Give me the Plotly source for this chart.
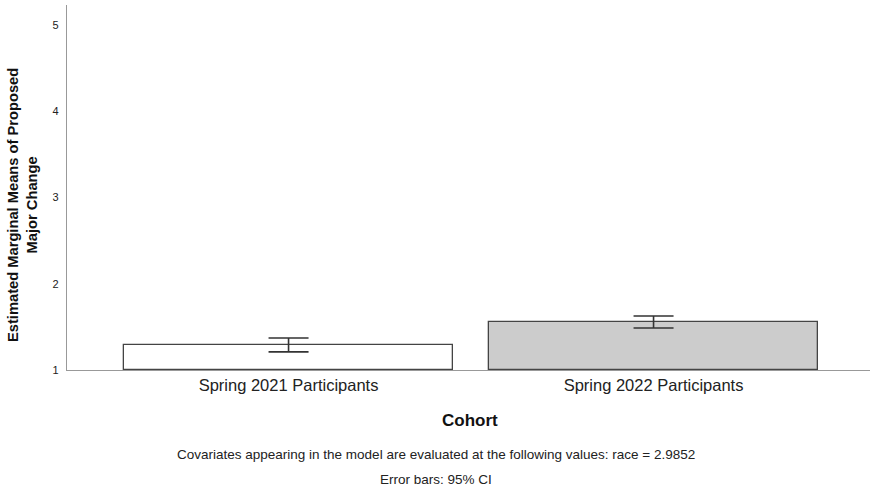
import plotly.graph_objects as go

categories = ["Spring 2021 Participants", "Spring 2022 Participants"]
means = [1.29, 1.556]
ci_upper = [1.37, 1.626]
ci_lower = [1.21, 1.487]
bar_colors = ["#ffffff", "#cccccc"]
y_ticks = [1, 2, 3, 4, 5]

err_plus = [u - m for u, m in zip(ci_upper, means)]
err_minus = [m - l for m, l in zip(means, ci_lower)]

FONT = "Liberation Sans, Arial, sans-serif"

fig = go.Figure()
fig.add_trace(go.Bar(
    x=[0, 1], y=[m - 1 for m in means], base=1,
    width=0.9,
    marker=dict(color=bar_colors, line=dict(color="#444444", width=1.3)),
    error_y=dict(type="data", array=err_plus, arrayminus=err_minus,
                 color="#333333", thickness=1.6, width=20),
    hoverinfo="skip",
))

L, R, T, B = 67, 0, 5, 120
W, H = 870, 490
pw = W - L - R
ph = H - T - B

def px(x):
    return (x - L) / pw

def py(y):
    return (H - B - y) / ph

fig.update_layout(
    width=W, height=H,
    margin=dict(l=L, r=R, t=T, b=B),
    paper_bgcolor="white", plot_bgcolor="white",
    showlegend=False,
    bargap=0,
    font=dict(family=FONT, color="#222222"),
    xaxis=dict(
        range=[-0.607, 1.593],
        tickvals=[0, 1], ticktext=categories,
        tickfont=dict(size=16.5, color="#222222", family=FONT),
        showline=True, linecolor="#999999", linewidth=1.3,
        showgrid=False, zeroline=False, ticks="", ticklen=0,
    ),
    yaxis=dict(
        range=[1, 5.23],
        tickvals=y_ticks, ticktext=[str(t) for t in y_ticks],
        tickfont=dict(size=11, color="#222222", family=FONT),
        showline=True, linecolor="#999999", linewidth=1.3,
        showgrid=False, zeroline=False, ticks="", ticklen=0,
        ticklabelstandoff=5,
    ),
    annotations=[
        dict(text="<b>Estimated Marginal Means of Proposed<br>Major Change</b>",
             xref="paper", yref="paper", x=px(22), y=py(205),
             textangle=-90, showarrow=False,
             font=dict(size=14.7, color="#111111", family=FONT),
             xanchor="center", yanchor="middle"),
        dict(text="<b>Cohort</b>", xref="paper", yref="paper",
             x=px(470), y=py(420), showarrow=False,
             font=dict(size=17, color="#111111", family=FONT),
             xanchor="center", yanchor="middle"),
        dict(text="Covariates appearing in the model are evaluated at the following values: race = 2.9852",
             xref="paper", yref="paper", x=px(436), y=py(454), showarrow=False,
             font=dict(size=13.5, color="#222222", family=FONT),
             xanchor="center", yanchor="middle"),
        dict(text="Error bars: 95% CI",
             xref="paper", yref="paper", x=px(436), y=py(480), showarrow=False,
             font=dict(size=13.5, color="#222222", family=FONT),
             xanchor="center", yanchor="middle"),
    ],
)

fig.write_html("out.html")
